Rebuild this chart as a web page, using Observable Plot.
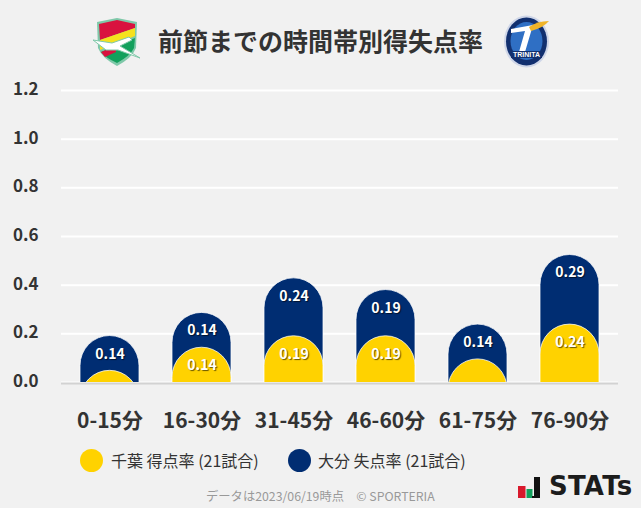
<!DOCTYPE html>
<html lang="ja">
<head>
<meta charset="utf-8">
<script src="https://cdn.jsdelivr.net/npm/d3@7"></script>
<script src="https://cdn.jsdelivr.net/npm/@observablehq/plot@0.6"></script>
<style>
html,body{margin:0;padding:0;background:#f1f1f1;}
#page{position:relative;width:641px;height:508px;overflow:hidden;background:#f1f1f1;font-family:"Noto Sans CJK JP","Noto Sans",sans-serif;color:#333;}
#chart{position:absolute;left:0;top:0;}
#chart svg{display:block;background:transparent;}
.abs{position:absolute;white-space:nowrap;line-height:1;}
.title{left:158px;top:28px;font-size:25px;font-weight:700;color:#333;}
.leg{top:452px;font-size:16px;color:#333;}
.dot{position:absolute;width:23px;height:23px;border-radius:50%;top:449px;}
.foot{left:206px;top:490px;font-size:12.3px;color:#999;}
.stats{left:549px;top:473px;font-size:26px;font-weight:700;font-family:"DejaVu Sans",sans-serif;color:#1c1c1c;letter-spacing:.2px;}
</style>
</head>
<body>
<div id="page">
  <div id="chart"></div>
  <svg class="abs" style="left:92px;top:16px" width="50" height="52" viewBox="0 0 50 52">
    <path d="M5 6 L25 2 L45 6 L44 32 Q40 42 25 50 Q10 42 6 32 Z" fill="#7fc8a9"/>
    <path d="M7 8 L25 4 L43 8 L43 12 L8 24 Z" fill="#d9123f"/>
    <path d="M8 24 L43 12 L43 20 L8 34 Z" fill="#f5e11e"/>
    <path d="M9 36 L43 22 L42 32 Q38 40 25 47 Q14 42 9 36 Z" fill="#12a05c"/>
    <path d="M9 36 L24 30 L24 36 L13 41 Z" fill="#d9123f"/>
    <path d="M1 24 L20 27 L37 21 L40 24 L28 30 L48 42 L26 34 L14 34 Z" fill="#fff" stroke="#7fc8a9" stroke-width="1"/>
  </svg>
  <svg class="abs" style="left:503px;top:14px" width="48" height="54" viewBox="0 0 48 54">
    <ellipse cx="23.500" cy="27.500" rx="22.500" ry="26" fill="#cfd6e8"/>
    <ellipse cx="23.500" cy="27.500" rx="20.500" ry="24" fill="#12306f"/>
    <ellipse cx="23.500" cy="27" rx="16" ry="19" fill="#2f6fc4"/>
    <path d="M8 15 L30 11 L22 38 L16 38 L22 17 L8 19 Z" fill="#fff"/>
    <path d="M26 13 Q34 7 46 7 Q40 14 28 17 Z" fill="#f0b429"/>
    <rect x="8" y="37" width="31" height="7" fill="#12306f"/>
    <text x="23.500" y="43" font-size="7" font-weight="700" text-anchor="middle" fill="#fff" font-family="Liberation Sans">TRINITA</text>
  </svg>
  <div class="abs title">前節までの時間帯別得失点率</div>
  <div class="dot" style="left:80px;background:#ffd200"></div>
  <div class="abs leg" style="left:111px">千葉 得点率 (21試合)</div>
  <div class="dot" style="left:288px;background:#002d72"></div>
  <div class="abs leg" style="left:318px">大分 失点率 (21試合)</div>
  <div class="abs foot">データは2023/06/19時点　© SPORTERIA</div>
  <svg class="abs" style="left:518px;top:476px" width="24" height="23" viewBox="0 0 24 23">
    <rect x="0" y="10" width="7.500" height="12" fill="#d8192c"/>
    <rect x="8.500" y="13" width="6" height="9" fill="#12a05c"/>
    <path d="M16 1 H22 V22 H14 V20 H16 Z" fill="#111"/>
  </svg>
  <div class="abs stats">STATs</div>
</div>
<script>
const periods = ["0-15分","16-30分","31-45分","46-60分","61-75分","76-90分"];
const chibaFor = [0.048,0.143,0.19,0.19,0.095,0.238];
const oitaAgainst = [0.143,0.143,0.238,0.19,0.143,0.286];
const yTicks = [0,0.2,0.4,0.6,0.8,1.0,1.2];
const yellow = "#ffd200", navy = "#002d72";

const rows = periods.map((p,i)=>({period:p, chiba:chibaFor[i], oita:oitaAgainst[i], total:chibaFor[i]+oitaAgainst[i]}));
const capped = {insetBottom:-70, rx:30, ry:30, clip:"frame", stroke:"#fff", strokeWidth:1, strokeOpacity:.75};
const labelStyle = {dy:18, fill:"#fff", fontSize:14, fontWeight:700, fontFamily:'"Noto Sans CJK JP"'};

const chart = Plot.plot({
  width:641, height:430,
  marginLeft:61, marginRight:23, marginTop:90, marginBottom:48,
  style:{background:"transparent", overflow:"visible"},
  x:{type:"band", domain:periods, paddingInner:.36, paddingOuter:.18, insetLeft:2.5, insetRight:2.5, label:null},
  y:{domain:[0,1.2], label:null},
  marks:[
    Plot.gridY(yTicks,{stroke:"#fff", strokeOpacity:1, strokeWidth:2}),
    Plot.barY(rows,{x:"period", y1:0, y2:"total", fill:navy, ...capped}),
    Plot.barY(rows,{x:"period", y1:0, y2:"chiba", fill:yellow, ...capped}),
    Plot.ruleY([0],{stroke:"#d2d2d2", strokeWidth:2, dy:1}),
    Plot.text(rows,{x:"period", y:"total", ...labelStyle, text:d=>d.oita.toFixed(2), className:"val"}),
    Plot.text(rows.filter(d=>d.chiba>=0.1),{x:"period", y:"chiba", ...labelStyle, text:d=>d.chiba.toFixed(2), className:"val"}),
    Plot.axisY(yTicks,{tickSize:0, tickPadding:0, dx:-23, dy:-1, fontSize:17, fontWeight:700, fill:"#333", fontFamily:'"Noto Sans CJK JP"', tickFormat:d=>d.toFixed(1), label:null}),
    Plot.axisX(periods,{tickSize:0, tickPadding:0, dy:31, fontSize:21, fontWeight:700, fill:"#333", fontFamily:'"Noto Sans CJK JP"', label:null})
  ]
});
const st=document.createElement("style");
st.textContent=".val text,text.val,g.val text{text-shadow:1px 1px 1px rgba(0,0,0,.6);}";
document.head.appendChild(st);
document.getElementById("chart").appendChild(chart);
</script>
</body>
</html>
